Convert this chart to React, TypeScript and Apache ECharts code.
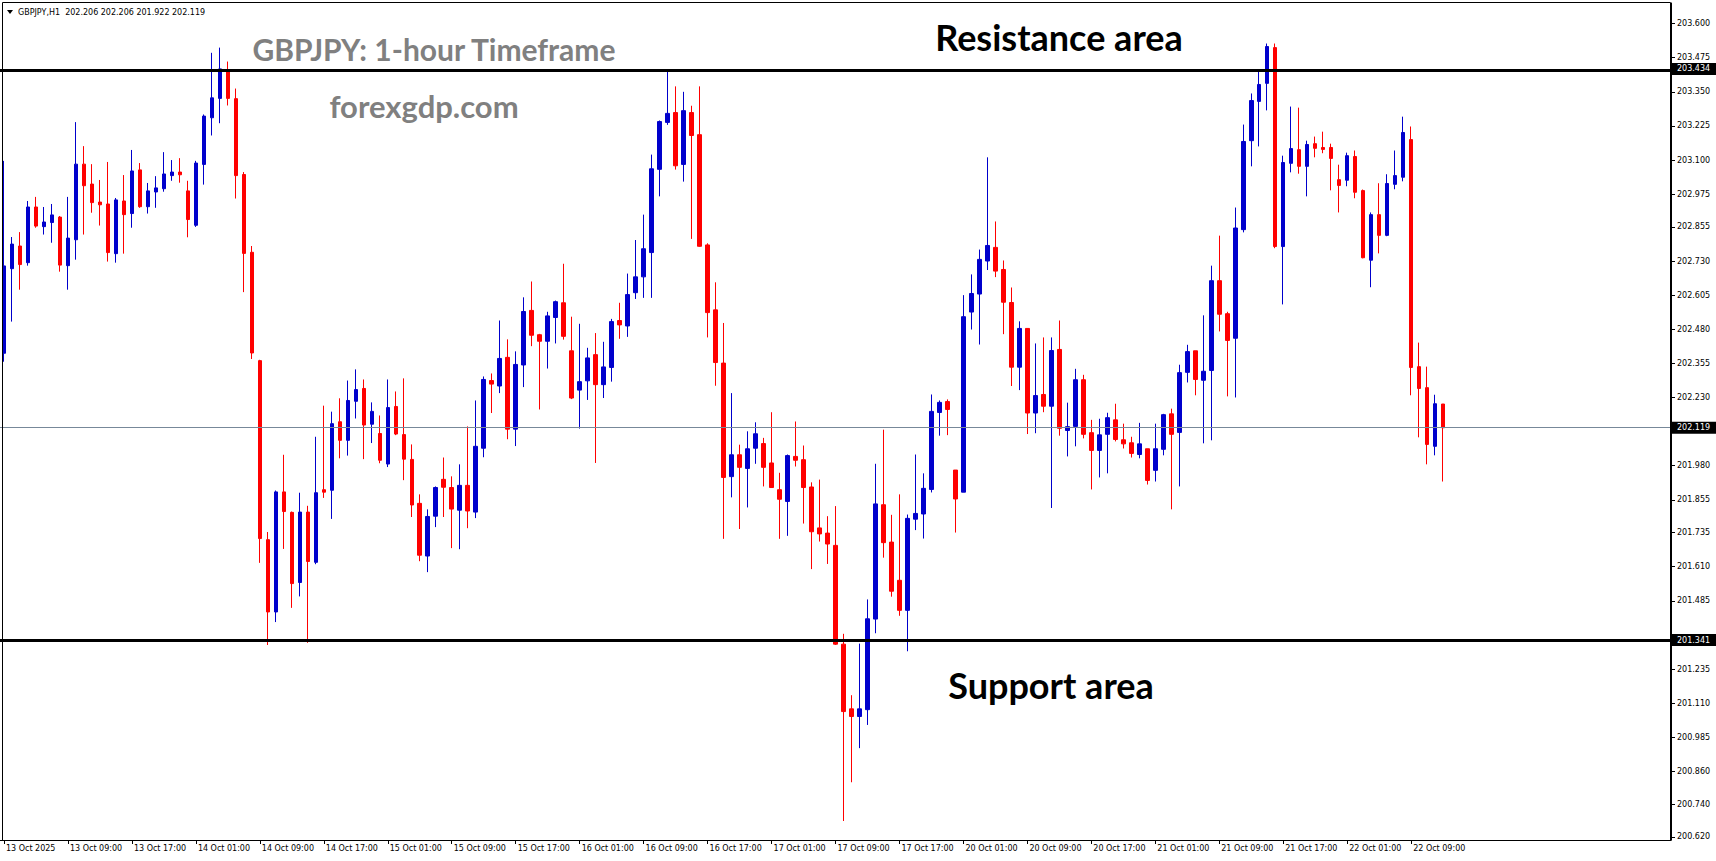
import React, { useEffect, useRef } from "react";
import * as echarts from "echarts";

// OHLC of the GBPJPY H1 candles (13 Oct 01:00 onward)
const opens = [
  202.392, 202.702, 202.785, 202.724, 202.928, 202.856, 202.871, 202.891, 202.713, 202.808,
  203.085, 203.012, 202.946, 202.939, 202.757, 202.950, 202.904, 203.064, 202.929, 202.983,
  202.995, 203.043, 203.056, 202.987, 202.861, 203.084, 203.255, 203.326, 203.430, 203.325,
  203.047, 202.762, 202.365, 201.709, 201.444, 201.884, 201.809, 201.552, 201.810, 201.626,
  201.892, 201.890, 202.141, 202.073, 202.216, 202.263, 202.132, 202.098, 201.986, 202.197,
  202.094, 202.003, 201.842, 201.649, 201.795, 201.930, 201.900, 201.817, 201.908, 201.810,
  202.044, 202.292, 202.272, 202.377, 202.114, 202.349, 202.549, 202.460, 202.436, 202.523,
  202.577, 202.401, 202.257, 202.291, 202.387, 202.277, 202.340, 202.512, 202.492, 202.614,
  202.672, 202.761, 203.066, 203.238, 203.274, 203.084, 203.274, 203.193, 202.789, 202.551,
  202.356, 201.940, 202.020, 201.970, 202.044, 202.061, 201.990, 201.892, 201.849, 202.014,
  202.002, 201.902, 201.752, 201.733, 201.688, 201.326, 201.089, 201.061, 201.086, 201.418,
  201.837, 201.700, 201.560, 201.450, 201.784, 201.803, 201.893, 202.175, 202.215, 201.964,
  201.883, 202.543, 202.609, 202.730, 202.780, 202.699, 202.578, 202.341, 202.483, 202.173,
  202.241, 202.198, 202.406, 202.109, 202.124, 202.295, 202.101, 202.036, 202.095, 202.148,
  202.075, 202.064, 202.021, 202.042, 201.963, 202.040, 202.170, 202.102, 202.322, 202.401,
  202.293, 202.329, 202.658, 202.537, 202.447, 202.845, 203.171, 203.315, 203.381, 203.512,
  202.783, 203.088, 203.138, 203.077, 203.160, 203.146, 203.146, 203.028, 203.026, 203.113,
  202.988, 202.733, 202.900, 202.824, 203.011, 203.037, 203.175, 202.343, 202.266, 202.051,
  202.206,
];
const highs = [
  203.097, 202.818, 202.836, 202.950, 202.965, 202.928, 202.939, 202.895, 202.965, 203.239,
  203.151, 203.085, 203.027, 203.093, 202.961, 203.045, 203.137, 203.089, 203.016, 203.041,
  203.129, 203.100, 203.107, 203.024, 203.097, 203.267, 203.493, 203.512, 203.461, 203.362,
  203.056, 202.785, 202.368, 201.737, 201.889, 202.020, 201.812, 201.881, 201.833, 202.086,
  202.200, 202.178, 202.227, 202.292, 202.333, 202.296, 202.212, 202.164, 202.296, 202.252,
  202.300, 202.058, 201.875, 201.820, 201.904, 202.010, 201.941, 201.985, 202.124, 202.219,
  202.307, 202.318, 202.512, 202.443, 202.399, 202.597, 202.655, 202.463, 202.544, 202.585,
  202.720, 202.526, 202.500, 202.412, 202.466, 202.434, 202.518, 202.577, 202.684, 202.807,
  202.900, 203.120, 203.245, 203.430, 203.370, 203.350, 203.299, 203.370, 202.795, 202.652,
  202.503, 202.246, 202.057, 202.106, 202.139, 202.082, 202.176, 201.954, 202.021, 202.142,
  202.054, 201.919, 201.929, 201.795, 201.832, 201.364, 201.139, 201.328, 201.490, 201.987,
  202.112, 201.800, 201.875, 201.801, 202.021, 201.952, 202.241, 202.219, 202.223, 201.964,
  202.605, 202.681, 202.772, 203.110, 202.875, 202.732, 202.633, 202.509, 202.483, 202.428,
  202.450, 202.450, 202.512, 202.211, 202.335, 202.313, 202.148, 202.152, 202.174, 202.207,
  202.134, 202.086, 202.137, 202.042, 202.134, 202.170, 202.189, 202.350, 202.423, 202.401,
  202.531, 202.713, 202.823, 202.544, 202.926, 203.230, 203.344, 203.433, 203.527, 203.527,
  203.116, 203.296, 203.292, 203.171, 203.186, 203.204, 203.160, 203.083, 203.127, 203.135,
  202.992, 202.908, 203.015, 203.048, 203.135, 203.259, 203.223, 202.431, 202.343, 202.240,
  202.206,
];
const lows = [
  202.361, 202.508, 202.625, 202.713, 202.852, 202.827, 202.797, 202.691, 202.625, 202.735,
  202.827, 202.907, 202.860, 202.728, 202.724, 202.757, 202.852, 202.925, 202.904, 202.925,
  202.984, 203.024, 203.017, 202.817, 202.855, 203.010, 203.190, 203.235, 203.300, 202.959,
  202.616, 202.371, 201.624, 201.323, 201.407, 201.675, 201.459, 201.501, 201.331, 201.619,
  201.862, 201.785, 202.007, 202.017, 202.153, 202.004, 202.063, 201.989, 201.975, 202.092,
  201.927, 201.792, 201.630, 201.590, 201.755, 201.792, 201.678, 201.674, 201.751, 201.788,
  202.011, 202.173, 202.246, 202.077, 202.052, 202.268, 202.418, 202.186, 202.336, 202.428,
  202.442, 202.224, 202.116, 202.221, 201.990, 202.228, 202.288, 202.445, 202.452, 202.591,
  202.595, 202.595, 202.967, 203.229, 203.065, 203.021, 202.811, 202.782, 202.450, 202.273,
  201.712, 201.864, 201.748, 201.827, 201.987, 201.904, 201.900, 201.712, 201.723, 201.977,
  201.768, 201.601, 201.702, 201.620, 201.323, 200.678, 200.820, 200.945, 201.030, 201.366,
  201.643, 201.500, 201.430, 201.300, 201.744, 201.713, 201.882, 202.090, 202.092, 201.735,
  201.883, 202.479, 202.424, 202.697, 202.671, 202.462, 202.272, 202.257, 202.096, 202.099,
  202.176, 201.825, 202.090, 202.014, 202.051, 202.080, 201.893, 201.937, 201.952, 202.069,
  202.043, 202.010, 202.007, 201.911, 201.922, 202.018, 201.820, 201.904, 202.285, 202.238,
  202.062, 202.073, 202.472, 202.234, 202.230, 202.835, 203.077, 203.150, 203.282, 202.777,
  202.571, 203.055, 203.050, 202.967, 203.110, 203.125, 202.989, 202.908, 203.004, 202.960,
  202.740, 202.634, 202.758, 202.821, 202.993, 203.022, 202.238, 202.084, 201.985, 202.018,
  201.922,
];
const closes = [
  202.712, 202.792, 202.717, 202.928, 202.858, 202.873, 202.899, 202.715, 202.814, 203.085,
  203.006, 202.944, 202.936, 202.761, 202.954, 202.900, 203.060, 202.929, 202.987, 202.998,
  203.049, 203.056, 203.046, 202.882, 203.089, 203.261, 203.328, 203.434, 203.326, 203.043,
  202.758, 202.393, 201.713, 201.444, 201.884, 201.812, 201.548, 201.810, 201.629, 201.881,
  201.883, 202.134, 202.073, 202.219, 202.259, 202.129, 202.179, 202.000, 202.193, 202.096,
  202.004, 201.836, 201.652, 201.794, 201.900, 201.901, 201.821, 201.908, 201.814, 202.051,
  202.296, 202.279, 202.373, 202.114, 202.351, 202.545, 202.458, 202.436, 202.529, 202.581,
  202.454, 202.228, 202.288, 202.375, 202.277, 202.342, 202.508, 202.496, 202.607, 202.672,
  202.775, 203.068, 203.241, 203.271, 203.079, 203.281, 203.190, 202.784, 202.541, 202.358,
  201.937, 202.020, 201.974, 202.042, 202.097, 201.974, 201.900, 201.857, 202.017, 202.000,
  201.900, 201.738, 201.730, 201.693, 201.326, 201.079, 201.061, 201.089, 201.419, 201.840,
  201.698, 201.520, 201.450, 201.787, 201.805, 201.897, 202.179, 202.212, 202.186, 201.858,
  202.526, 202.611, 202.736, 202.787, 202.693, 202.579, 202.341, 202.483, 202.173, 202.237,
  202.198, 202.402, 202.117, 202.123, 202.295, 202.095, 202.036, 202.093, 202.156, 202.076,
  202.060, 202.025, 202.060, 201.926, 202.042, 202.167, 202.095, 202.321, 202.398, 202.296,
  202.326, 202.658, 202.535, 202.439, 202.851, 203.168, 203.318, 203.377, 203.516, 202.783,
  203.091, 203.142, 203.077, 203.157, 203.143, 203.139, 203.106, 203.007, 203.116, 202.982,
  202.742, 202.900, 202.824, 203.014, 203.043, 203.201, 202.340, 202.263, 202.058, 202.207,
  202.119,
];

// time labels, one every 8 bars
const timeLabels = [
  "13 Oct 2025", "13 Oct 09:00", "13 Oct 17:00", "14 Oct 01:00", "14 Oct 09:00", "14 Oct 17:00",
  "15 Oct 01:00", "15 Oct 09:00", "15 Oct 17:00", "16 Oct 01:00", "16 Oct 09:00", "16 Oct 17:00",
  "17 Oct 01:00", "17 Oct 09:00", "17 Oct 17:00", "20 Oct 01:00", "20 Oct 09:00", "20 Oct 17:00",
  "21 Oct 01:00", "21 Oct 09:00", "21 Oct 17:00", "22 Oct 01:00", "22 Oct 09:00",
];

// price scale ticks, and the labels that are not hidden behind a price box
const priceTicks = [
  203.6, 203.475, 203.35, 203.225, 203.1, 202.975, 202.855, 202.73, 202.605, 202.48, 202.355,
  202.23, 202.105, 201.98, 201.855, 201.735, 201.61, 201.485, 201.36, 201.235, 201.11, 200.985,
  200.86, 200.74, 200.62,
];
const priceLabels = [
  203.6, 203.475, 203.35, 203.225, 203.1, 202.975, 202.855, 202.73, 202.605, 202.48, 202.355,
  202.23, 201.98, 201.855, 201.735, 201.61, 201.485, 201.235, 201.11, 200.985,
  200.86, 200.74, 200.62,
];

const resistanceLevel = 203.434;
const supportLevel = 201.341;
const lastPrice = 202.119;
const headerText = "GBPJPY,H1  202.206 202.206 201.922 202.119";

const TOTAL_SLOTS = 209;
const LABEL_STEP = 8;

export default function App() {
  const ref = useRef<HTMLDivElement>(null);

  useEffect(() => {
    if (!ref.current) return;
    const chart = echarts.init(ref.current, null, { renderer: "svg" });

    const categories = Array.from({ length: TOTAL_SLOTS }, (_, i) => String(i));
    const candleData = opens.map((o, i) => [o, closes[i], lows[i], highs[i]]);
    const smallFont = "DejaVu Sans";

    chart.setOption({
      animation: false,
      backgroundColor: "#ffffff",
      grid: { left: -1, right: 45, top: 3, bottom: 21 },
      xAxis: {
        type: "category",
        data: categories,
        boundaryGap: true,
        axisLine: { show: true, lineStyle: { color: "#000", width: 1 } },
        axisTick: {
          show: true,
          alignWithLabel: true,
          length: 4,
          interval: (i: number) => i % LABEL_STEP === 0 && i / LABEL_STEP < timeLabels.length,
          lineStyle: { color: "#000" },
        },
        axisLabel: {
          interval: LABEL_STEP - 1,
          align: "left",
          margin: 4,
          padding: [0, 0, 0, 2],
          color: "#000",
          fontFamily: smallFont,
          fontSize: 8,
          formatter: (_v: string, idx: number) =>
            idx % LABEL_STEP === 0 && timeLabels[idx / LABEL_STEP] ? timeLabels[idx / LABEL_STEP] : "",
        },
        splitLine: { show: false },
      },
      yAxis: {
        type: "value",
        position: "right",
        min: 200.6084,
        max: 203.6755,
        scale: true,
        axisLine: { show: true, lineStyle: { color: "#000", width: 1 } },
        axisTick: { show: true, length: 4, customValues: priceTicks, lineStyle: { color: "#000" } },
        axisLabel: {
          customValues: priceLabels,
          margin: 6,
          color: "#000",
          fontFamily: smallFont,
          fontSize: 8,
          formatter: (v: number) => v.toFixed(3),
        },
        splitLine: { show: false },
      },
      series: [
        {
          type: "candlestick",
          data: candleData,
          barWidth: 4,
          itemStyle: {
            color: "#0000CC",
            color0: "#FF0000",
            borderColor: "#0000CC",
            borderColor0: "#FF0000",
            borderWidth: 1,
          },
          markLine: {
            silent: true,
            symbol: ["none", "none"],
            label: { show: false },
            data: [
              { yAxis: resistanceLevel, lineStyle: { color: "#000", width: 3, type: "solid" } },
              { yAxis: supportLevel, lineStyle: { color: "#000", width: 3, type: "solid" } },
              { yAxis: lastPrice, lineStyle: { color: "#778899", width: 1, type: "solid" } },
            ],
          },
        },
      ],
    });

    const yPx = (v: number) => chart.convertToPixel({ yAxisIndex: 0 }, v) as number;
    const priceBox = (v: number) => ({
      type: "group",
      z: 100,
      children: [
        { type: "rect", shape: { x: 1671, y: yPx(v) - 6, width: 45, height: 12 }, style: { fill: "#000" } },
        {
          type: "text",
          x: 1677,
          y: yPx(v),
          style: {
            text: v.toFixed(3),
            fill: "#fff",
            font: `8px "${smallFont}"`,
            textVerticalAlign: "middle",
            textAlign: "left",
          },
        },
      ],
    });

    chart.setOption({
      graphic: [
        {
          type: "rect",
          z: 50,
          shape: { x: 2.5, y: 2.5, width: 1668, height: 838 },
          style: { fill: "none", stroke: "#000", lineWidth: 1 },
        },
        {
          type: "polygon",
          z: 60,
          shape: { points: [[7, 10], [13, 10], [10, 14]] },
          style: { fill: "#000" },
        },
        {
          type: "text",
          z: 60,
          x: 18,
          y: 12,
          style: { text: headerText, fill: "#000", font: `8px "${smallFont}"`, textVerticalAlign: "middle" },
        },
        {
          type: "text",
          z: 60,
          x: 434,
          y: 49,
          style: {
            text: "GBPJPY: 1-hour Timeframe",
            fill: "#808080",
            font: 'bold 30px "Lato"',
            textAlign: "center",
            textVerticalAlign: "middle",
          },
        },
        {
          type: "text",
          z: 60,
          x: 424,
          y: 106,
          style: {
            text: "forexgdp.com",
            fill: "#808080",
            font: 'bold 31px "Lato"',
            textAlign: "center",
            textVerticalAlign: "middle",
          },
        },
        {
          type: "text",
          z: 60,
          x: 1059,
          y: 37,
          style: {
            text: "Resistance area",
            fill: "#000",
            font: 'bold 36px "Lato"',
            textAlign: "center",
            textVerticalAlign: "middle",
          },
        },
        {
          type: "text",
          z: 60,
          x: 1051,
          y: 685,
          style: {
            text: "Support area",
            fill: "#000",
            font: 'bold 36px "Lato"',
            textAlign: "center",
            textVerticalAlign: "middle",
          },
        },
        priceBox(resistanceLevel),
        priceBox(lastPrice),
        priceBox(supportLevel),
      ],
    });

    return () => chart.dispose();
  }, []);

  return (
    <div
      ref={ref}
      style={{ position: "fixed", left: 0, top: 0, width: 1716, height: 861, background: "#fff" }}
    />
  );
}
